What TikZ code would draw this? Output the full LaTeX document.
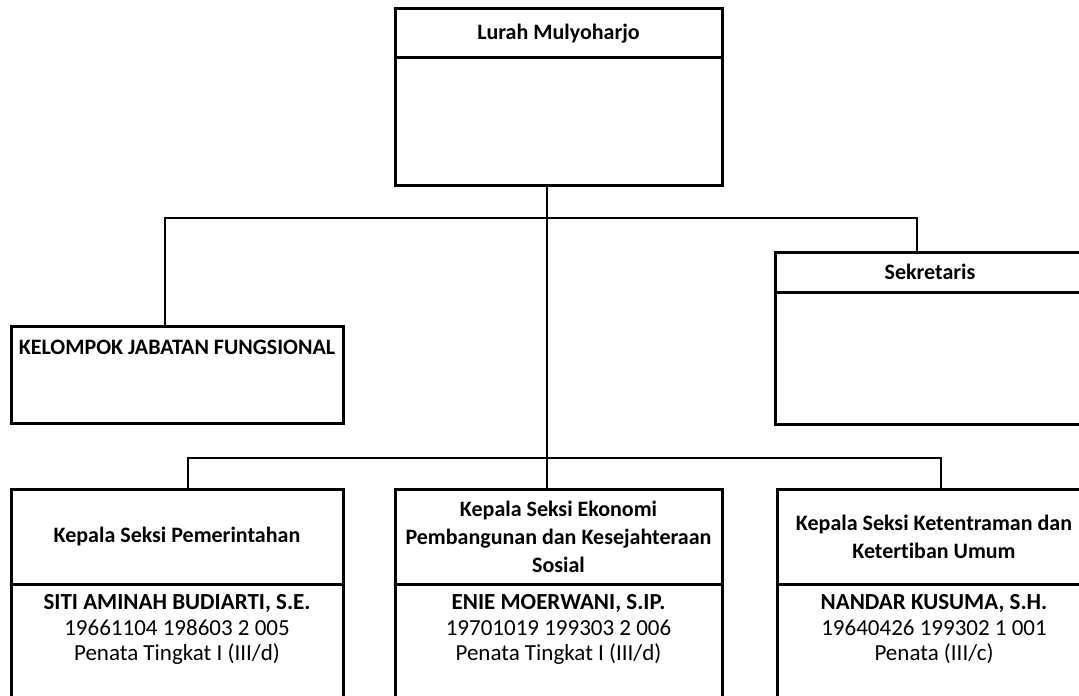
\documentclass[tikz,border=0pt]{standalone}
\usepackage{fontspec}
\setmainfont{Carlito}[Ligatures=NoCommon]
\usetikzlibrary{positioning}

\begin{document}
\begin{tikzpicture}[
    x=0.5pt, y=-0.5pt,
    font=\fontsize{11}{14}\selectfont,
    box/.style={draw, line width=1.5pt, inner sep=0pt, outer sep=0pt, align=center},
    head/.style={box, font=\fontsize{11}{14}\selectfont\bfseries},
    info/.style={align=center, inner sep=0pt, font=\fontsize{11.5}{12}\selectfont},
    link/.style={line width=0.8pt},
  ]
    \useasboundingbox (0,0) rectangle (1079,695);
    \clip (0,0) rectangle (1079,695);

    % lurah
    \node[head, anchor=north west, minimum width=163.5pt, minimum height=24.5pt] (lurah) at (395,9) {Lurah Mulyoharjo};
    \node[box, below=0pt of lurah, minimum width=163.5pt, minimum height=64pt] (lurahbody) {};

    % kelompok jabatan fungsional
    \node[box, anchor=north west, minimum width=166pt, minimum height=48.5pt] (kjf) at (11,326) {};
    \node[font=\fontsize{11}{14}\selectfont\bfseries, inner sep=0pt] (kjftext) at ([yshift=-10.5pt]kjf.north) {KELOMPOK JABATAN FUNGSIONAL};

    % sekretaris
    \node[head, anchor=north west, minimum width=155pt, minimum height=20pt] (sekre) at (775,252) {Sekretaris};
    \node[box, below=0pt of sekre, minimum width=155pt, minimum height=66pt] (sekrebody) {};

    % kepala seksi
    \node[head, anchor=north west, minimum width=166pt, minimum height=47.5pt] (kspem) at (11,489) {Kepala Seksi Pemerintahan};
    \node[box, below=0pt of kspem, minimum width=166pt, minimum height=65pt] (kspembody) {};
    \node[head, anchor=north west, minimum width=163.5pt, minimum height=47.5pt] (ksekon) at (395,489) {Kepala Seksi Ekonomi\\Pembangunan dan Kesejahteraan\\Sosial};
    \node[box, below=0pt of ksekon, minimum width=163.5pt, minimum height=65pt] (ksekonbody) {};
    \node[head, anchor=north west, minimum width=157pt, minimum height=47.5pt] (ksket) at (777,489) {Kepala Seksi Ketentraman dan\\Ketertiban Umum};
    \node[box, below=0pt of ksket, minimum width=157pt, minimum height=65pt] (ksketbody) {};

    \node[info, below=5pt of kspembody.north] (pem) {\textbf{SITI AMINAH BUDIARTI, S.E.}\\[0.8pt]19661104 198603 2 005\\[0.8pt]Penata Tingkat I (III/d)};
    \node[info, below=5pt of ksekonbody.north] (ekon) {\textbf{ENIE MOERWANI, S.IP.}\\[0.8pt]19701019 199303 2 006\\[0.8pt]Penata Tingkat I (III/d)};
    \node[info, below=5pt of ksketbody.north] (ket) {\textbf{NANDAR KUSUMA, S.H.}\\[0.8pt]19640426 199302 1 001\\[0.8pt]Penata (III/c)};

    % garis
    \coordinate (upL) at (165,218);
    \coordinate (upR) at (917,218);
    \coordinate (lowL) at (188,458);
    \coordinate (lowR) at (941,458);
    \coordinate (lowM) at (547,458);
    \draw[link] (lurahbody.south -| lowM) -- (lowM);
    \draw[link] (kjf.north -| upL) -- (upL) -- (upR) -- (sekre.north -| upR);
    \draw[link] (kspem.north -| lowL) -- (lowL) -- (lowR) -- (ksket.north -| lowR);
    \draw[link] (lowM) -- (ksekon.north -| lowM);
\end{tikzpicture}
\end{document}
